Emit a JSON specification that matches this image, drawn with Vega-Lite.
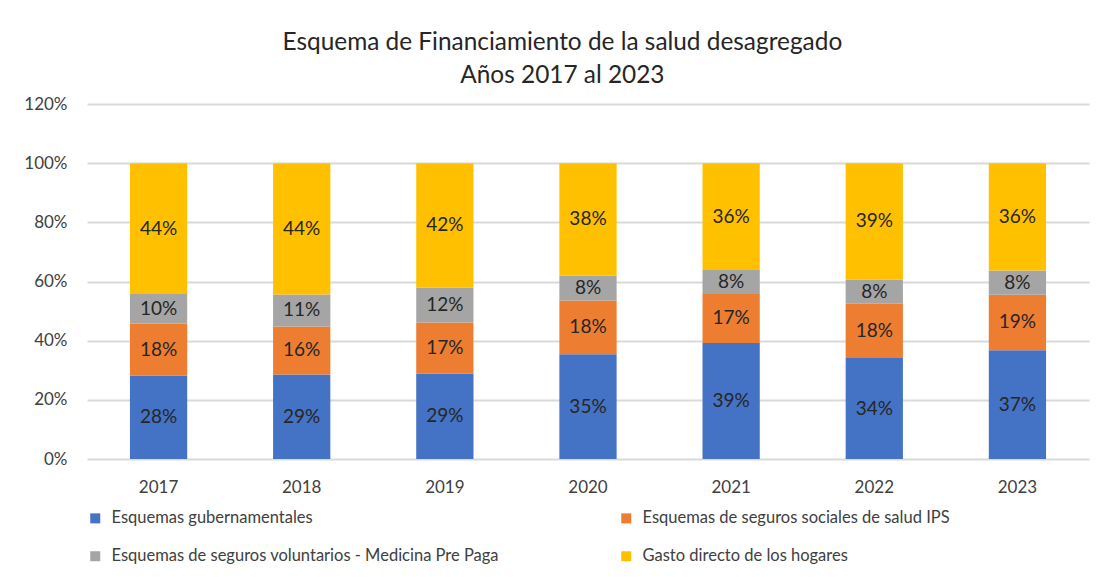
{
  "$schema": "https://vega.github.io/schema/vega-lite/v6.json",
  "width": 1002,
  "height": 355,
  "background": "white",
  "padding": {"left": 23, "top": 29, "right": 10, "bottom": 5},
  "title": {
    "text": ["Esquema de Financiamiento de la salud desagregado", "Años 2017 al 2023"],
    "font": "Lato",
    "fontSize": 24.4,
    "fontWeight": "normal",
    "color": "#262626",
    "anchor": "middle",
    "frame": "bounds",
    "dx": 6,
    "offset": 7,
    "lineHeight": 33
  },
  "data": {
    "values": [
      {"anio": "2017", "Esquemas gubernamentales": 0.282, "Esquemas de seguros sociales de salud IPS": 0.176, "Esquemas de seguros voluntarios - Medicina Pre Paga": 0.100, "Gasto directo de los hogares": 0.442},
      {"anio": "2018", "Esquemas gubernamentales": 0.286, "Esquemas de seguros sociales de salud IPS": 0.162, "Esquemas de seguros voluntarios - Medicina Pre Paga": 0.108, "Gasto directo de los hogares": 0.444},
      {"anio": "2019", "Esquemas gubernamentales": 0.288, "Esquemas de seguros sociales de salud IPS": 0.173, "Esquemas de seguros voluntarios - Medicina Pre Paga": 0.118, "Gasto directo de los hogares": 0.421},
      {"anio": "2020", "Esquemas gubernamentales": 0.354, "Esquemas de seguros sociales de salud IPS": 0.182, "Esquemas de seguros voluntarios - Medicina Pre Paga": 0.084, "Gasto directo de los hogares": 0.380},
      {"anio": "2021", "Esquemas gubernamentales": 0.392, "Esquemas de seguros sociales de salud IPS": 0.166, "Esquemas de seguros voluntarios - Medicina Pre Paga": 0.081, "Gasto directo de los hogares": 0.361},
      {"anio": "2022", "Esquemas gubernamentales": 0.341, "Esquemas de seguros sociales de salud IPS": 0.184, "Esquemas de seguros voluntarios - Medicina Pre Paga": 0.082, "Gasto directo de los hogares": 0.393},
      {"anio": "2023", "Esquemas gubernamentales": 0.368, "Esquemas de seguros sociales de salud IPS": 0.187, "Esquemas de seguros voluntarios - Medicina Pre Paga": 0.082, "Gasto directo de los hogares": 0.363}
    ]
  },
  "transform": [
    {"fold": ["Esquemas gubernamentales", "Esquemas de seguros sociales de salud IPS", "Esquemas de seguros voluntarios - Medicina Pre Paga", "Gasto directo de los hogares"], "as": ["serie", "valor"]},
    {"stack": "valor", "groupby": ["anio"], "as": ["y0", "y1"]},
    {"calculate": "(datum.y0 + datum.y1) / 2", "as": "ymid"}
  ],
  "encoding": {
    "x": {
      "field": "anio",
      "type": "nominal",
      "title": null,
      "scale": {"paddingInner": 0.6, "paddingOuter": 0.3},
      "axis": {
        "labelAngle": 0,
        "labelFont": "Lato",
        "labelFontSize": 17,
        "labelColor": "#404040",
        "labelPadding": 20,
        "ticks": false,
        "domain": false
      }
    }
  },
  "layer": [
    {
      "mark": {"type": "bar"},
      "encoding": {
        "y": {
          "field": "y0",
          "type": "quantitative",
          "title": null,
          "scale": {"domain": [0, 1.2], "nice": false},
          "axis": {
            "values": [0, 0.2, 0.4, 0.6, 0.8, 1.0, 1.2],
            "format": ".0%",
            "labelFont": "Lato",
            "labelFontSize": 17,
            "labelColor": "#404040",
            "labelPadding": 20,
            "ticks": false,
            "domain": false,
            "gridColor": "#d9d9d9",
            "gridWidth": 2
          }
        },
        "y2": {"field": "y1"},
        "color": {
          "field": "serie",
          "type": "nominal",
          "title": null,
          "scale": {
            "domain": ["Esquemas gubernamentales", "Esquemas de seguros sociales de salud IPS", "Esquemas de seguros voluntarios - Medicina Pre Paga", "Gasto directo de los hogares"],
            "range": ["#4472C4", "#ED7D31", "#A5A5A5", "#FFC000"]
          },
          "legend": {
            "orient": "bottom",
            "direction": "horizontal",
            "columns": 2,
            "symbolType": "square",
            "symbolSize": 100,
            "symbolStrokeWidth": 0,
            "labelFont": "Lato",
            "labelFontSize": 16.5,
            "labelColor": "#404040",
            "labelLimit": 600,
            "labelOffset": 8,
            "columnPadding": 119,
            "rowPadding": 21,
            "offset": 15
          }
        }
      }
    },
    {
      "mark": {"type": "text", "font": "Lato", "fontSize": 19, "color": "#262626", "baseline": "middle"},
      "encoding": {
        "y": {"field": "ymid", "type": "quantitative"},
        "text": {"field": "valor", "type": "quantitative", "format": ".0%"}
      }
    }
  ],
  "config": {"view": {"stroke": null}}
}
